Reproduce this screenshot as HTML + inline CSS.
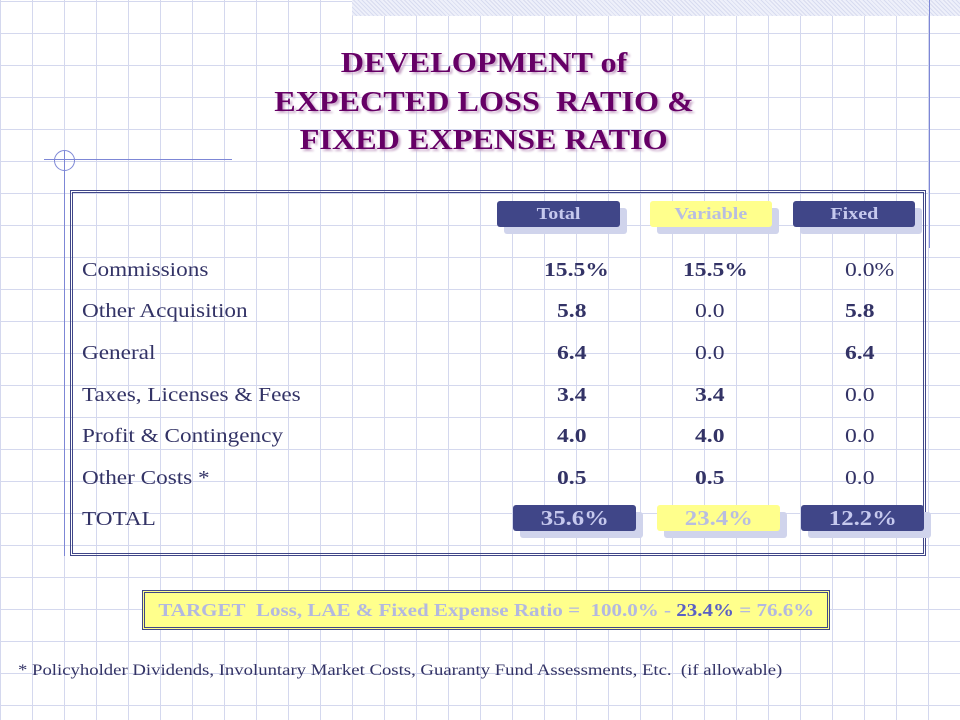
<!DOCTYPE html>
<html><head><meta charset="utf-8"><style>
body{margin:0}
#s{position:relative;width:960px;height:720px;overflow:hidden;background-color:#fff;
background-image:linear-gradient(90deg,#d4d8ee 0 1px,transparent 1px),linear-gradient(0deg,transparent 31px,#d4d8ee 31px);
background-size:32px 32px;background-position:0 0,0 1px;font-family:"Liberation Serif",serif}
.a{position:absolute;margin:0}
.t{left:0;width:968px;text-align:center;color:#660066;font-weight:bold;font-size:29px;text-shadow:2px 2px 2px #c9a8c9;line-height:39px}
.t span{display:inline-block;transform:scaleX(1.11)}
.l{left:82px;font-size:20px;color:#333366;line-height:24px;transform:scaleX(1.16);transform-origin:0 0;white-space:nowrap}
.v{font-size:20px;color:#333366;line-height:24px;transform:scaleX(1.18);transform-origin:0 0}
.b{font-weight:bold}
.p{height:26px;border-radius:3px;text-align:center;font-weight:bold;box-shadow:7px 7px 0 #d0d4ec;font-family:"Liberation Serif",serif}
.p span{display:inline-block;transform:scaleX(1.18)}
.h{font-size:17px;line-height:26px}
.tt{font-size:21px;line-height:26px}
.n{background:#404688;color:#c6c9ee}
.y{background:#ffff8c;color:#b8bde0}
</style></head><body>
<div id="s">
<div class="a" style="left:352px;top:0;width:608px;height:16px;background:repeating-linear-gradient(45deg,#d8dcf0 0 1px,#eef0fa 1px 3px)"></div>
<div class="a" style="left:929px;top:0;width:1px;height:248px;background:#7d87d6"></div>
<div class="a" style="left:44px;top:159px;width:188px;height:1px;background:#7d87d6"></div>
<div class="a" style="left:64px;top:150px;width:1px;height:406px;background:#7d87d6"></div>
<div class="a" style="left:54px;top:150px;width:19px;height:19px;border:1px solid #7d87d6;border-radius:50%"></div>
<div class="a t" style="top:44px"><span>DEVELOPMENT of</span></div>
<div class="a t" style="top:83px"><span>EXPECTED LOSS&nbsp; RATIO &amp;</span></div>
<div class="a t" style="top:121px"><span>FIXED EXPENSE RATIO</span></div>
<div class="a" style="left:70px;top:190px;width:850px;height:360px;border:3px double #404688"></div>
<div class="a p h n" style="left:497px;top:201px;width:123px"><span>Total</span></div>
<div class="a p h y" style="left:650px;top:201px;width:122px"><span>Variable</span></div>
<div class="a p h n" style="left:793px;top:201px;width:122px"><span>Fixed</span></div>

<div class="a l" style="top:258px">Commissions</div>
<div class="a v b" style="left:544px;top:258px">15.5%</div>
<div class="a v b" style="left:683px;top:258px">15.5%</div>
<div class="a v" style="left:845px;top:258px">0.0%</div>

<div class="a l" style="top:299px">Other Acquisition</div>
<div class="a v b" style="left:557px;top:299px">5.8</div>
<div class="a v" style="left:695px;top:299px">0.0</div>
<div class="a v b" style="left:845px;top:299px">5.8</div>

<div class="a l" style="top:341px">General</div>
<div class="a v b" style="left:557px;top:341px">6.4</div>
<div class="a v" style="left:695px;top:341px">0.0</div>
<div class="a v b" style="left:845px;top:341px">6.4</div>

<div class="a l" style="top:383px">Taxes, Licenses &amp; Fees</div>
<div class="a v b" style="left:557px;top:383px">3.4</div>
<div class="a v b" style="left:695px;top:383px">3.4</div>
<div class="a v" style="left:845px;top:383px">0.0</div>

<div class="a l" style="top:424px">Profit &amp; Contingency</div>
<div class="a v b" style="left:557px;top:424px">4.0</div>
<div class="a v b" style="left:695px;top:424px">4.0</div>
<div class="a v" style="left:845px;top:424px">0.0</div>

<div class="a l" style="top:466px">Other Costs *</div>
<div class="a v b" style="left:557px;top:466px">0.5</div>
<div class="a v b" style="left:695px;top:466px">0.5</div>
<div class="a v" style="left:845px;top:466px">0.0</div>

<div class="a l" style="top:507px">TOTAL</div>
<div class="a p tt n" style="left:513px;top:505px;width:123px"><span>35.6%</span></div>
<div class="a p tt y" style="left:657px;top:505px;width:123px"><span>23.4%</span></div>
<div class="a p tt n" style="left:801px;top:505px;width:123px"><span>12.2%</span></div>

<div class="a" style="left:142px;top:590px;width:682px;height:34px;border:3px double #404688;background:#ffff8c;text-align:center;font-weight:bold;font-size:17.5px;line-height:34px;color:#b3b8e0;white-space:nowrap"><span style="display:inline-block;transform:scaleX(1.2)">TARGET&nbsp; Loss, LAE &amp; Fixed Expense Ratio =&nbsp; 100.0% - <span style="color:#5a60c4">23.4%</span> = 76.6%</span></div>

<div class="a" style="left:18px;top:661px;font-size:16px;color:#333366;line-height:20px;white-space:nowrap;transform:scaleX(1.17);transform-origin:0 0">* Policyholder Dividends, Involuntary Market Costs, Guaranty Fund Assessments, Etc.&nbsp; (if allowable)</div>
</div>
</body></html>
